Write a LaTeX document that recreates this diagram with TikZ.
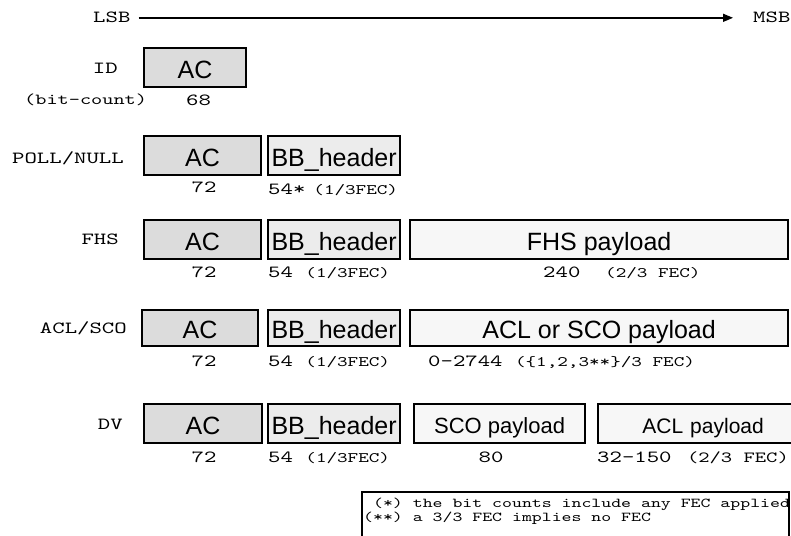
\documentclass[tikz,border=0pt]{standalone}
\usepackage{fontspec}
\setmainfont{Liberation Sans}
\newfontfamily\typefont{lmmono10-regular.otf}[FakeStretch=1.39]
\usetikzlibrary{arrows.meta}
\definecolor{acgray}{RGB}{220,220,220}
\definecolor{hdrgray}{RGB}{236,236,236}
\definecolor{plgray}{RGB}{247,247,247}
\newcommand{\mb}{\typefont\fontsize{17}{20}\selectfont}
\newcommand{\ms}{\typefont\fontsize{14.5}{17}\selectfont}
\newcommand{\mn}{\typefont\fontsize{13.6}{15}\selectfont}
\tikzset{
  field/.style={draw=black, line width=2.2pt, inner sep=0pt, anchor=north west,
    font=\fontsize{25}{25}\selectfont, text height=21pt, text depth=0pt},
  acfield/.style={field, fill=acgray},
  hdrfield/.style={field, fill=hdrgray},
  plfield/.style={field, fill=plgray},
  plsmall/.style={plfield, font=\fontsize{22}{22}\selectfont, text height=19.5pt},
  rowlabel/.style={font=\mb, anchor=base east, inner sep=0pt},
  count/.style={font=\mb, anchor=base west, inner sep=0pt},
  ccount/.style={font=\mb, anchor=base, inner sep=0pt},
  notetext/.style={font=\mn, anchor=base west, inner sep=0pt},
}
\begin{document}
\begin{tikzpicture}[x=1pt, y=-1pt]
\useasboundingbox (0,0) rectangle (791,535);
\clip (0,0) rectangle (791,535);

% bit order
\node[rowlabel, anchor=base west] (lsb) at (93,23) {LSB};
\node[rowlabel, anchor=base west] (msb) at (753,23) {MSB};
\draw[line width=1.5pt, -{Triangle[length=10pt,width=8pt]}, shorten <=8pt, shorten >=20pt]
  (lsb.east) -- (msb.west |- lsb.east);

% ID packet
\node[rowlabel] (idlbl) at (118,74) {ID};
\node[acfield, minimum width=102pt, minimum height=39pt] (idac) at (143,47) {AC};
\node[count, font=\typefont\fontsize{15.3}{18}\selectfont] (bitcount) at (24,104) {(bit-count)};
\node[count] (idacn) at (186,105) {68};

% POLL/NULL packet
\node[rowlabel] (polllbl) at (124,163) {POLL/NULL};
\node[acfield, minimum width=117pt, minimum height=39pt] (pollac) at (143,135) {AC};
\node[hdrfield, minimum width=132pt, minimum height=39pt] (pollbb) at (267,135) {BB\_header};
\node[ccount] (pollacn) at (204,192) {72};
\node[count] (pollbbn) at (268,194) {54*\hspace{8pt}{\ms (1/3FEC)}};

% FHS packet
\node[rowlabel] (fhslbl) at (119,244) {FHS};
\node[acfield, minimum width=117pt, minimum height=39pt] (fhsac) at (143,219) {AC};
\node[hdrfield, minimum width=132pt, minimum height=39pt] (fhsbb) at (267,219) {BB\_header};
\node[plfield, minimum width=378pt, minimum height=39pt] (fhspl) at (409,219) {FHS payload};
\node[ccount] (fhsacn) at (204,277) {72};
\node[count] (fhsbbn) at (268,277) {54 {\ms (1/3FEC)}};
\node[count] (fhspln) at (543,277) {240\ \ {\ms (2/3 FEC)}};

% ACL/SCO packet
\node[rowlabel] (acllbl) at (127,333) {ACL/SCO};
\node[acfield, minimum width=116pt, minimum height=36pt] (aclac) at (141,309) {AC};
\node[hdrfield, minimum width=132pt, minimum height=36pt] (aclbb) at (267,309) {BB\_header};
\node[plfield, minimum width=378pt, minimum height=36pt] (aclpl) at (409,309) {ACL or SCO payload};
\node[ccount] (aclacn) at (204,366) {72};
\node[count] (aclbbn) at (268,366) {54 {\ms (1/3FEC)}};
\node[count] (aclpln) at (428,366) {0-2744 {\ms (\{1,2,3**\}/3 FEC)}};

% DV packet
\node[rowlabel] (dvlbl) at (123,429) {DV};
\node[acfield, minimum width=118pt, minimum height=39pt] (dvac) at (143,403) {AC};
\node[hdrfield, minimum width=132pt, minimum height=39pt] (dvbb) at (267,403) {BB\_header};
\node[plsmall, minimum width=171pt, minimum height=39pt] (dvsco) at (413,403) {SCO payload};
\node[plsmall, minimum width=210pt, minimum height=39pt, font=\fontsize{21}{21}\selectfont,
  align=center, text width=190pt] (dvacl) at (597,403) {ACL payload};
\node[ccount] (dvacn) at (204,462) {72};
\node[count] (dvbbn) at (268,462) {54 {\ms (1/3FEC)}};
\node[ccount] (dvscon) at (491,462) {80};
\node[count] (dvacln) at (597,462) {32-150 \hspace{3pt}{\typefont\fontsize{15.5}{18}\selectfont (2/3 FEC)}};

% footnotes
\node[draw=black, line width=2.2pt, fill=white, anchor=north west, inner sep=0pt,
  minimum width=427pt, minimum height=60pt] (note) at (361,491) {};
\node[notetext] (note1) at (363,507) {\ (*) the bit counts include any FEC applied};
\node[notetext] (note2) at (363,521) {(**) a 3/3 FEC implies no FEC};
\end{tikzpicture}
\end{document}
